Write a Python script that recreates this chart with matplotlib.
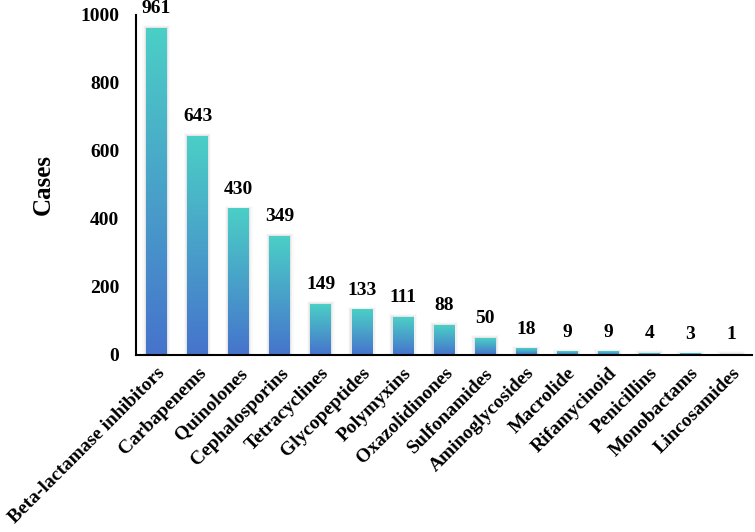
import numpy as np
import matplotlib.pyplot as plt
from matplotlib.colors import LinearSegmentedColormap

categories = ['Beta-lactamase inhibitors', 'Carbapenems', 'Quinolones', 'Cephalosporins',
              'Tetracyclines', 'Glycopeptides', 'Polymyxins', 'Oxazolidinones',
              'Sulfonamides', 'Aminoglycosides', 'Macrolide', 'Rifamycinoid',
              'Penicillins', 'Monobactams', 'Lincosamides']
cases = [961, 643, 430, 349, 149, 133, 111, 88, 50, 18, 9, 9, 4, 3, 1]

plt.rcParams['font.family'] = ['Liberation Serif', 'DejaVu Serif']
plt.rcParams['font.weight'] = 'bold'

fig = plt.figure(figsize=(7.55, 5.32), dpi=100)
ax = fig.add_axes([0.180, 0.333, 0.816, 0.639])

x = np.arange(len(categories))
bars = ax.bar(x, cases, width=0.5, color='none', edgecolor='none')

# teal (top) -> blue (bottom) gradient inside every bar
cmap = LinearSegmentedColormap.from_list('tb', ['#4673CC', '#4BCFC6'])
grad = np.linspace(0, 1, 256).reshape(-1, 1)
for b in bars:
    x0, w, h = b.get_x(), b.get_width(), b.get_height()
    # soft shadow
    for k, a in enumerate([0.10, 0.07, 0.04]):
        d = 0.03 * (k + 1)
        ax.add_patch(plt.Rectangle((x0 - d, 0), w + 2 * d, h + 3 * (k + 1),
                                   color='gray', alpha=a, lw=0, zorder=1))
    ax.imshow(grad, extent=[x0, x0 + w, 0, h], origin='lower', aspect='auto',
              cmap=cmap, zorder=2, interpolation='bilinear')
    ax.annotate(str(int(h)), (x0 + w / 2, h), xytext=(0, 8), textcoords='offset points',
                ha='center', va='bottom', fontsize=14, fontweight='bold')

ax.set_xlim(-0.5, len(categories) - 0.5)
ax.set_ylim(0, 1000)
ax.set_yticks([0, 200, 400, 600, 800, 1000])
ax.set_xticks(x)
ax.set_xticklabels(categories, rotation=45, ha='right', rotation_mode='anchor',
                   fontsize=14, fontweight='bold')
ax.tick_params(axis='both', length=0, labelsize=14)
ax.tick_params(axis='x', pad=7, labelsize=14)
ax.tick_params(axis='y', pad=12)
for lab in ax.get_yticklabels():
    lab.set_fontweight('bold')
ax.set_ylabel('Cases', fontsize=18, fontweight='bold', labelpad=18)

for s in ['top', 'right']:
    ax.spines[s].set_visible(False)
for s in ['left', 'bottom']:
    ax.spines[s].set_linewidth(1.5)

fig.savefig('out.png', dpi=100)
